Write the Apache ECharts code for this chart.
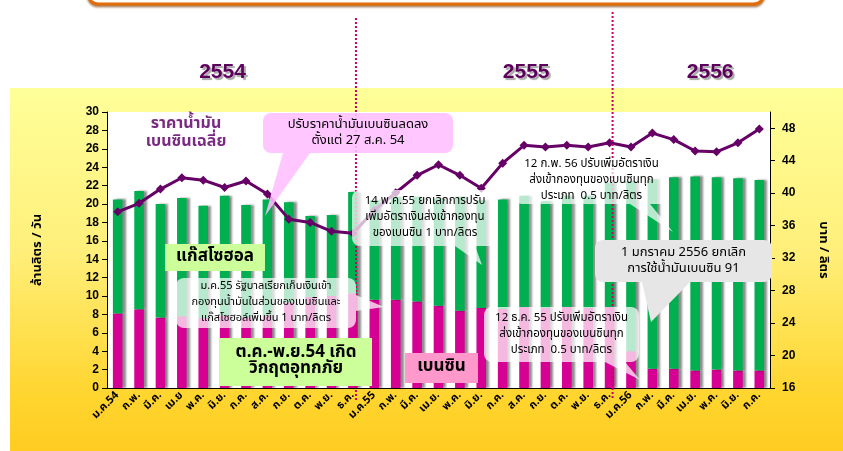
<!DOCTYPE html>
<html>
<head>
<meta charset="utf-8">
<script src="https://cdn.jsdelivr.net/npm/echarts@6/dist/echarts.min.js"></script>
<style>
  html, body { margin: 0; padding: 0; background: #fff; }
  #wrap { position: relative; width: 843px; height: 451px; overflow: hidden; background: #fff; }
  #band { position: absolute; left: 10px; top: 88px; right: 0; bottom: 0;
          background: linear-gradient(to bottom, #ffff99 0%, #ffef7a 45%, #ffd52e 85%, #ffcc22 100%); }
  #chart { position: absolute; left: 0; top: 0; width: 843px; height: 451px; }
</style>
</head>
<body>
<div id="wrap">
  <div id="band"></div>
  <div id="chart"></div>
</div>
<script>
// เดือน ม.ค.54 - ก.ค.56
var months = ['ม.ค.54','ก.พ.','มี.ค.','เม.ย','พ.ค.','มิ.ย.','ก.ค.','ส.ค.','ก.ย.','ต.ค.','พ.ย.','ธ.ค.',
              'ม.ค.55','ก.พ.','มี.ค.','เม.ย.','พ.ค.','มิ.ย.','ก.ค.','ส.ค.','ก.ย.','ต.ค.','พ.ย.','ธ.ค.',
              'ม.ค.56','ก.พ.','มี.ค.','เม.ย.','พ.ค.','มิ.ย.','ก.ค.'];

// เบนซิน (ล้านลิตร/วัน)
var benzine = [8.1, 8.55, 7.65, 7.8, 7.6, 7.9, 7.7, 7.9, 9.3, 9.9, 10.0, 10.3,
               9.6, 9.6, 9.4, 8.95, 8.4, 8.7, 8.6, 8.8, 8.7, 8.8, 8.7, 8.8,
               4.0, 2.1, 2.1, 1.9, 2.0, 1.9, 1.9];

// แก๊สโซฮอล (ล้านลิตร/วัน)
var gasohol = [12.4, 12.85, 12.35, 12.85, 12.2, 13.0, 12.2, 12.6, 10.9, 8.8, 8.8, 11.0,
               10.8, 11.2, 11.4, 11.65, 12.4, 11.7, 11.9, 12.1, 11.6, 12.1, 12.2, 13.5,
               18.5, 20.6, 20.8, 21.1, 20.9, 20.9, 20.7];

// ราคาน้ำมันเบนซินเฉลี่ย (บาท/ลิตร)
var price = [37.7, 38.75, 40.5, 41.9, 41.6, 40.7, 41.5, 39.9, 36.8, 36.4, 35.3, 35.05,
             37.9, 40.05, 42.2, 43.5, 42.2, 40.6, 43.7, 45.9, 45.7, 45.9, 45.7, 46.2,
             45.7, 47.4, 46.6, 45.2, 45.1, 46.2, 47.9];

var years = ['2554', '2555', '2556'];

var thai = 'Tahoma, "Noto Sans Thai", "Noto Sans", "DejaVu Sans", sans-serif';
var cats = months.map(function(m, i){ return i + ''; });

var chart = echarts.init(document.getElementById('chart'), null, {renderer: 'canvas'});

var option = {
  backgroundColor: 'transparent',
  animation: false,
  grid: { left: 107, right: 73, top: 112, bottom: 63, show: true, backgroundColor: '#fff', borderWidth: 0 },
  xAxis: {
    type: 'category',
    data: cats,
    axisLine: { lineStyle: { color: '#000', width: 1 } },
    axisTick: { lineStyle: { color: '#000' }, length: 4 },
    axisLabel: {
      interval: 0, rotate: 45, margin: 6,
      fontFamily: thai, fontWeight: 'bold', fontSize: 11, color: '#000',
      formatter: function(v){ return months[+v]; }
    }
  },
  yAxis: [{
    type: 'value', min: 0, max: 30, interval: 2,
    name: 'ล้านลิตร / วัน', nameLocation: 'middle', nameGap: 62, nameRotate: 90,
    nameTextStyle: { fontFamily: thai, fontWeight: 'bold', fontSize: 13, color: '#000' },
    axisLine: { show: true, lineStyle: { color: '#000' } },
    axisTick: { show: true, inside: false, length: 5, lineStyle: { color: '#000' } },
    axisLabel: { fontFamily: 'Arial, "Liberation Sans", sans-serif', fontWeight: 'bold', fontSize: 12, color: '#000', margin: 8 },
    splitLine: { show: false }
  }, {
    type: 'value', min: 16, max: 50, interval: 4,
    name: 'บาท / ลิตร', nameLocation: 'middle', nameGap: 46, nameRotate: -90,
    nameTextStyle: { fontFamily: thai, fontWeight: 'bold', fontSize: 13, color: '#000' },
    axisLine: { show: true, lineStyle: { color: '#000' } },
    axisTick: { show: true, length: 5, lineStyle: { color: '#000' } },
    axisLabel: { fontFamily: 'Arial, "Liberation Sans", sans-serif', fontWeight: 'bold', fontSize: 12, color: '#000', margin: 12, showMaxLabel: false },
    splitLine: { show: false }
  }],
  series: [{
    name: 'เบนซิน', type: 'bar', stack: 'vol', barWidth: '45%',
    itemStyle: { color: '#d60093', shadowColor: 'rgba(0,0,0,0.45)', shadowOffsetX: 3, shadowBlur: 2 },
    data: benzine
  }, {
    name: 'แก๊สโซฮอล', type: 'bar', stack: 'vol', barWidth: '45%',
    itemStyle: { color: '#00b050', shadowColor: 'rgba(0,0,0,0.45)', shadowOffsetX: 3, shadowBlur: 2 },
    data: gasohol
  }, {
    name: 'ราคา', type: 'line', yAxisIndex: 1,
    symbol: 'diamond', symbolSize: 9,
    lineStyle: { color: '#660066', width: 3 },
    itemStyle: { color: '#660066' },
    data: price, z: 5
  }]
};
chart.setOption(option);

// ---- annotations ----
function bubble(x, y, w, h, tail, fill, text, font, color, r) {
  var els = [
    { type: 'rect', shape: { x: x, y: y, width: w, height: h, r: r == null ? 8 : r }, style: { fill: fill }, z: 100 },
    { type: 'text', x: x + w / 2, y: y + h / 2, z: 101,
      style: { text: text, font: font, fill: color || '#000', align: 'center', verticalAlign: 'middle', lineHeight: 16 } }
  ];
  if (tail) els.splice(1, 0, { type: 'polygon', shape: { points: tail }, style: { fill: fill }, z: 100 });
  return els;
}

var px = function(i){ return chart.convertToPixel({ xAxisIndex: 0 }, i + ''); };
var g = [];

// top orange frame
g.push({ type: 'rect', shape: { x: 88, y: -40, width: 676, height: 44, r: 10 },
         style: { fill: '#fff', stroke: '#e36c09', lineWidth: 3, shadowColor: 'rgba(120,60,0,0.5)', shadowOffsetY: 2, shadowBlur: 2 }, z: 90 });

// separators between years
[11, 23].forEach(function(i, k){
  var x = px(i) + 3;
  g.push({ type: 'line', shape: { x1: x, y1: k === 0 ? 18 : 12, x2: x, y2: 400 },
           style: { stroke: '#cc0066', lineWidth: 2, lineDash: [2, 2] }, z: 95 });
});

// year labels
[[4.9, years[0]], [19.1, years[1]], [27.7, years[2]]].forEach(function(p){
  var x = px(Math.floor(p[0])) + (p[0] % 1) * 21.4;
  g.push({ type: 'text', x: x, y: 72, z: 101,
    style: { text: p[1], font: 'bold 21px "Liberation Sans Narrow", "Arial Narrow", sans-serif', fill: '#5c005c',
             align: 'center', verticalAlign: 'middle', textShadowColor: 'rgba(0,0,0,0.35)', textShadowOffsetX: 2, textShadowOffsetY: 2, textShadowBlur: 1 } });
});

g.push({ type: 'text', x: 186, y: 134, z: 101,
  style: { text: 'ราคาน้ำมัน\nเบนซินเฉลี่ย', font: 'bold 16px ' + thai, fill: '#7a2a82', align: 'center', verticalAlign: 'middle', lineHeight: 18 } });

g = g.concat(bubble(263, 113, 190, 40, [[283, 153], [310, 153], [265, 216]], 'rgba(255,190,255,0.88)',
  'ปรับราคาน้ำมันเบนซินลดลง\nตั้งแต่ 27 ส.ค. 54', '13px ' + thai));

g = g.concat(bubble(165, 244, 100, 27, null, '#ccff99', 'แก๊สโซฮอล', 'bold 17px ' + thai, '#000', 0));

g = g.concat(bubble(176, 278, 180, 50, [[356, 295], [356, 311], [384, 307]], 'rgba(255,255,255,0.72)',
  'ม.ค.55 รัฐบาลเรียกเก็บเงินเข้า\nกองทุนน้ำมันในส่วนของเบนซินและ\nแก๊สโซฮอล์เพิ่มขึ้น 1 บาท/ลิตร', '11px ' + thai));

g = g.concat(bubble(220, 338, 152, 48, null, '#ccff99', 'ต.ค.-พ.ย.54 เกิด\nวิกฤตอุทกภัย', 'bold 17px ' + thai, '#000', 0));

g = g.concat(bubble(405, 353, 73, 30, null, '#ff99cc', 'เบนซิน', 'bold 17px ' + thai, '#000', 0));

g = g.concat(bubble(352, 190, 146, 56, [[455, 246], [475, 246], [482, 265]], 'rgba(255,255,255,0.72)',
  '14 พ.ค.55 ยกเลิกการปรับ\nเพิ่มอัตราเงินส่งเข้ากองทุน\nของเบนซิน 1 บาท/ลิตร', '11.5px ' + thai));

g = g.concat(bubble(514, 158, 155, 46, [[630, 204], [650, 204], [673, 232]], 'rgba(255,255,255,0.72)',
  '12 ก.พ. 56 ปรับเพิ่มอัตราเงิน\nส่งเข้ากองทุนของเบนซินทุก\nประเภท  0.5 บาท/ลิตร', '11.5px ' + thai));

g = g.concat(bubble(484, 307, 155, 55, [[605, 362], [625, 362], [640, 380]], 'rgba(255,255,255,0.72)',
  '12 ธ.ค. 55 ปรับเพิ่มอัตราเงิน\nส่งเข้ากองทุนของเบนซินทุก\nประเภท  0.5 บาท/ลิตร', '11.5px ' + thai));

g = g.concat(bubble(595, 240, 177, 42, [[642, 282], [690, 282], [651, 322]], '#e6e6e6',
  '1 มกราคม 2556 ยกเลิก\nการใช้น้ำมันเบนซิน 91', '13px ' + thai));

chart.setOption({ graphic: g });
</script>
</body>
</html>
